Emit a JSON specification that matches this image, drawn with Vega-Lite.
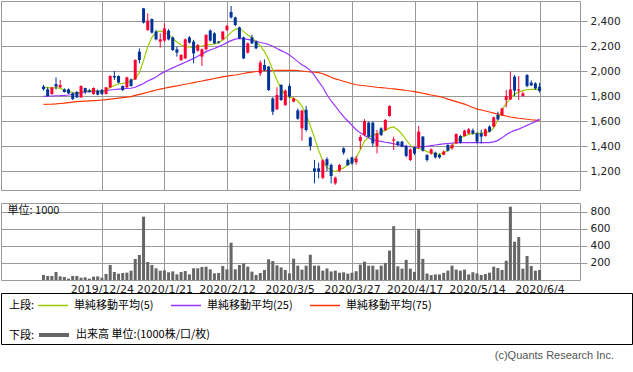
{
  "$schema": "https://vega.github.io/schema/vega-lite/v6.json",
  "padding": 0,
  "background": "white",
  "config": {
    "view": {"stroke": "#999999", "strokeWidth": 1},
    "font": "DejaVu Sans",
    "axis": {"gridColor": "#999999", "gridWidth": 1, "gridOpacity": 1, "domain": false, "tickColor": "#999999", "labelColor": "#222222", "labelFont": "DejaVu Sans"}
  },
  "datasets": {
    "p": [
      {"i":0,"d":"2019-12-04","o":1875,"h":1888,"l":1843,"c":1855,"v":59,"a5":1869,"a25":1797,"a75":1733},
      {"i":1,"d":"2019-12-05","o":1853,"h":1869,"l":1795,"c":1800,"v":47,"a5":1867,"a25":1798,"a75":1734},
      {"i":2,"d":"2019-12-06","o":1816,"h":1872,"l":1810,"c":1869,"v":47,"a5":1864,"a25":1800,"a75":1735},
      {"i":3,"d":"2019-12-09","o":1896,"h":1949,"l":1853,"c":1875,"v":94,"a5":1867,"a25":1802,"a75":1737},
      {"i":4,"d":"2019-12-10","o":1869,"h":1928,"l":1865,"c":1888,"v":43,"a5":1861,"a25":1803,"a75":1740},
      {"i":5,"d":"2019-12-11","o":1853,"h":1862,"l":1828,"c":1832,"v":35,"a5":1848,"a25":1805,"a75":1743},
      {"i":6,"d":"2019-12-12","o":1853,"h":1860,"l":1815,"c":1821,"v":16,"a5":1837,"a25":1808,"a75":1747},
      {"i":7,"d":"2019-12-13","o":1821,"h":1830,"l":1768,"c":1776,"v":47,"a5":1827,"a25":1812,"a75":1751},
      {"i":8,"d":"2019-12-16","o":1832,"h":1840,"l":1785,"c":1789,"v":47,"a5":1821,"a25":1820,"a75":1755},
      {"i":9,"d":"2019-12-17","o":1789,"h":1885,"l":1785,"c":1880,"v":27,"a5":1832,"a25":1828,"a75":1757},
      {"i":10,"d":"2019-12-18","o":1864,"h":1866,"l":1816,"c":1832,"v":31,"a5":1840,"a25":1832,"a75":1759},
      {"i":11,"d":"2019-12-19","o":1843,"h":1855,"l":1828,"c":1832,"v":16,"a5":1843,"a25":1834,"a75":1761},
      {"i":12,"d":"2019-12-20","o":1816,"h":1869,"l":1810,"c":1864,"v":39,"a5":1843,"a25":1836,"a75":1763},
      {"i":13,"d":"2019-12-23","o":1843,"h":1853,"l":1805,"c":1811,"v":43,"a5":1837,"a25":1838,"a75":1765},
      {"i":14,"d":"2019-12-24","o":1848,"h":1856,"l":1810,"c":1816,"v":27,"a5":1835,"a25":1840,"a75":1768},
      {"i":15,"d":"2019-12-25","o":1816,"h":1872,"l":1812,"c":1869,"v":70,"a5":1848,"a25":1844,"a75":1771},
      {"i":16,"d":"2019-12-26","o":1869,"h":1965,"l":1865,"c":1960,"v":176,"a5":1869,"a25":1848,"a75":1775},
      {"i":17,"d":"2019-12-27","o":1960,"h":2000,"l":1928,"c":1949,"v":94,"a5":1885,"a25":1852,"a75":1779},
      {"i":18,"d":"2019-12-30","o":1960,"h":1965,"l":1900,"c":1907,"v":74,"a5":1896,"a25":1855,"a75":1783},
      {"i":19,"d":"2020-01-06","o":1880,"h":1885,"l":1840,"c":1848,"v":82,"a5":1901,"a25":1858,"a75":1787},
      {"i":20,"d":"2020-01-07","o":1869,"h":1955,"l":1865,"c":1949,"v":86,"a5":1909,"a25":1860,"a75":1791},
      {"i":21,"d":"2020-01-08","o":1933,"h":1940,"l":1875,"c":1880,"v":109,"a5":1920,"a25":1862,"a75":1795},
      {"i":22,"d":"2020-01-09","o":1933,"h":2093,"l":1928,"c":2088,"v":246,"a5":1939,"a25":1870,"a75":1805},
      {"i":23,"d":"2020-01-10","o":2155,"h":2181,"l":2061,"c":2088,"v":293,"a5":1987,"a25":1885,"a75":1813},
      {"i":24,"d":"2020-01-14","o":2501,"h":2505,"l":2380,"c":2387,"v":742,"a5":2083,"a25":1900,"a75":1821},
      {"i":25,"d":"2020-01-15","o":2328,"h":2461,"l":2320,"c":2403,"v":211,"a5":2195,"a25":1920,"a75":1830},
      {"i":26,"d":"2020-01-16","o":2416,"h":2420,"l":2300,"c":2307,"v":176,"a5":2269,"a25":1935,"a75":1839},
      {"i":27,"d":"2020-01-17","o":2315,"h":2328,"l":2245,"c":2253,"v":137,"a5":2309,"a25":1952,"a75":1848},
      {"i":28,"d":"2020-01-20","o":2235,"h":2301,"l":2187,"c":2253,"v":109,"a5":2320,"a25":1975,"a75":1855},
      {"i":29,"d":"2020-01-21","o":2243,"h":2381,"l":2235,"c":2341,"v":113,"a5":2309,"a25":1993,"a75":1862},
      {"i":30,"d":"2020-01-22","o":2323,"h":2335,"l":2245,"c":2253,"v":90,"a5":2291,"a25":2010,"a75":1869},
      {"i":31,"d":"2020-01-23","o":2269,"h":2275,"l":2160,"c":2168,"v":101,"a5":2261,"a25":2025,"a75":1875},
      {"i":32,"d":"2020-01-24","o":2173,"h":2195,"l":2115,"c":2147,"v":66,"a5":2232,"a25":2040,"a75":1881},
      {"i":33,"d":"2020-01-27","o":2088,"h":2135,"l":2080,"c":2128,"v":94,"a5":2208,"a25":2055,"a75":1888},
      {"i":34,"d":"2020-01-28","o":2101,"h":2260,"l":2095,"c":2253,"v":105,"a5":2195,"a25":2070,"a75":1894},
      {"i":35,"d":"2020-01-29","o":2269,"h":2280,"l":2220,"c":2227,"v":66,"a5":2192,"a25":2085,"a75":1900},
      {"i":36,"d":"2020-01-30","o":2235,"h":2250,"l":2061,"c":2141,"v":137,"a5":2187,"a25":2100,"a75":1907},
      {"i":37,"d":"2020-01-31","o":2163,"h":2215,"l":2155,"c":2208,"v":137,"a5":2195,"a25":2118,"a75":1914},
      {"i":38,"d":"2020-02-03","o":2115,"h":2180,"l":2040,"c":2173,"v":152,"a5":2200,"a25":2135,"a75":1920},
      {"i":39,"d":"2020-02-04","o":2173,"h":2295,"l":2165,"c":2288,"v":156,"a5":2208,"a25":2155,"a75":1927},
      {"i":40,"d":"2020-02-05","o":2323,"h":2333,"l":2235,"c":2243,"v":125,"a5":2211,"a25":2168,"a75":1933},
      {"i":41,"d":"2020-02-06","o":2301,"h":2310,"l":2215,"c":2221,"v":78,"a5":2216,"a25":2180,"a75":1940},
      {"i":42,"d":"2020-02-07","o":2235,"h":2240,"l":2220,"c":2227,"v":82,"a5":2227,"a25":2195,"a75":1947},
      {"i":43,"d":"2020-02-10","o":2253,"h":2320,"l":2245,"c":2315,"v":164,"a5":2248,"a25":2210,"a75":1953},
      {"i":44,"d":"2020-02-12","o":2328,"h":2370,"l":2320,"c":2360,"v":125,"a5":2275,"a25":2227,"a75":1959},
      {"i":45,"d":"2020-02-13","o":2472,"h":2520,"l":2420,"c":2429,"v":437,"a5":2309,"a25":2243,"a75":1965},
      {"i":46,"d":"2020-02-14","o":2429,"h":2435,"l":2360,"c":2368,"v":125,"a5":2333,"a25":2255,"a75":1968},
      {"i":47,"d":"2020-02-17","o":2349,"h":2355,"l":2255,"c":2261,"v":176,"a5":2339,"a25":2260,"a75":1974},
      {"i":48,"d":"2020-02-18","o":2269,"h":2275,"l":2095,"c":2101,"v":195,"a5":2315,"a25":2258,"a75":1980},
      {"i":49,"d":"2020-02-19","o":2147,"h":2228,"l":2140,"c":2221,"v":156,"a5":2288,"a25":2253,"a75":1987},
      {"i":50,"d":"2020-02-20","o":2269,"h":2290,"l":2215,"c":2221,"v":98,"a5":2269,"a25":2245,"a75":1991},
      {"i":51,"d":"2020-02-21","o":2235,"h":2245,"l":2175,"c":2181,"v":59,"a5":2235,"a25":2237,"a75":1996},
      {"i":52,"d":"2020-02-25","o":1981,"h":2085,"l":1960,"c":2067,"v":82,"a5":2200,"a25":2228,"a75":2000},
      {"i":53,"d":"2020-02-26","o":2048,"h":2093,"l":2000,"c":2008,"v":117,"a5":2155,"a25":2222,"a75":2002},
      {"i":54,"d":"2020-02-27","o":2035,"h":2040,"l":1840,"c":1848,"v":242,"a5":2093,"a25":2212,"a75":2003},
      {"i":55,"d":"2020-02-28","o":1781,"h":1790,"l":1648,"c":1675,"v":222,"a5":2008,"a25":2198,"a75":2004},
      {"i":56,"d":"2020-03-02","o":1693,"h":1870,"l":1688,"c":1808,"v":172,"a5":1928,"a25":2180,"a75":2005},
      {"i":57,"d":"2020-03-03","o":1888,"h":1895,"l":1760,"c":1768,"v":148,"a5":1861,"a25":2163,"a75":2005},
      {"i":58,"d":"2020-03-04","o":1728,"h":1853,"l":1720,"c":1843,"v":117,"a5":1808,"a25":2148,"a75":2005},
      {"i":59,"d":"2020-03-05","o":1880,"h":1900,"l":1785,"c":1795,"v":78,"a5":1789,"a25":2128,"a75":2005},
      {"i":60,"d":"2020-03-06","o":1755,"h":1789,"l":1750,"c":1781,"v":250,"a5":1782,"a25":2103,"a75":2005},
      {"i":61,"d":"2020-03-09","o":1685,"h":1700,"l":1610,"c":1618,"v":168,"a5":1760,"a25":2075,"a75":2004},
      {"i":62,"d":"2020-03-10","o":1541,"h":1690,"l":1443,"c":1683,"v":122,"a5":1720,"a25":2050,"a75":2000},
      {"i":63,"d":"2020-03-11","o":1690,"h":1720,"l":1515,"c":1528,"v":168,"a5":1650,"a25":2030,"a75":1996},
      {"i":64,"d":"2020-03-12","o":1469,"h":1475,"l":1363,"c":1400,"v":296,"a5":1560,"a25":2005,"a75":1993},
      {"i":65,"d":"2020-03-13","o":1221,"h":1288,"l":1101,"c":1195,"v":168,"a5":1465,"a25":1965,"a75":1990},
      {"i":66,"d":"2020-03-16","o":1221,"h":1267,"l":1141,"c":1195,"v":168,"a5":1365,"a25":1915,"a75":1987},
      {"i":67,"d":"2020-03-17","o":1145,"h":1295,"l":1135,"c":1285,"v":110,"a5":1280,"a25":1870,"a75":1978},
      {"i":68,"d":"2020-03-18","o":1295,"h":1310,"l":1200,"c":1245,"v":135,"a5":1230,"a25":1810,"a75":1965},
      {"i":69,"d":"2020-03-19","o":1248,"h":1260,"l":1101,"c":1160,"v":100,"a5":1205,"a25":1760,"a75":1950},
      {"i":70,"d":"2020-03-23","o":1101,"h":1155,"l":1090,"c":1147,"v":110,"a5":1195,"a25":1720,"a75":1937},
      {"i":71,"d":"2020-03-24","o":1203,"h":1255,"l":1190,"c":1248,"v":85,"a5":1210,"a25":1675,"a75":1928},
      {"i":72,"d":"2020-03-25","o":1381,"h":1390,"l":1330,"c":1347,"v":90,"a5":1225,"a25":1635,"a75":1918},
      {"i":73,"d":"2020-03-26","o":1288,"h":1300,"l":1240,"c":1248,"v":75,"a5":1250,"a25":1600,"a75":1908},
      {"i":74,"d":"2020-03-27","o":1309,"h":1315,"l":1250,"c":1261,"v":85,"a5":1275,"a25":1565,"a75":1898},
      {"i":75,"d":"2020-03-30","o":1270,"h":1320,"l":1250,"c":1300,"v":103,"a5":1305,"a25":1530,"a75":1890},
      {"i":76,"d":"2020-03-31","o":1440,"h":1488,"l":1375,"c":1472,"v":180,"a5":1370,"a25":1505,"a75":1886},
      {"i":77,"d":"2020-04-01","o":1488,"h":1615,"l":1480,"c":1600,"v":215,"a5":1440,"a25":1485,"a75":1882},
      {"i":78,"d":"2020-04-02","o":1587,"h":1595,"l":1465,"c":1475,"v":168,"a5":1470,"a25":1465,"a75":1878},
      {"i":79,"d":"2020-04-03","o":1587,"h":1595,"l":1395,"c":1421,"v":168,"a5":1485,"a25":1450,"a75":1874},
      {"i":80,"d":"2020-04-06","o":1400,"h":1528,"l":1341,"c":1500,"v":122,"a5":1498,"a25":1443,"a75":1870},
      {"i":81,"d":"2020-04-07","o":1541,"h":1550,"l":1480,"c":1488,"v":168,"a5":1510,"a25":1437,"a75":1867},
      {"i":82,"d":"2020-04-08","o":1528,"h":1615,"l":1520,"c":1608,"v":200,"a5":1525,"a25":1430,"a75":1864},
      {"i":83,"d":"2020-04-09","o":1640,"h":1725,"l":1635,"c":1720,"v":345,"a5":1545,"a25":1425,"a75":1860},
      {"i":84,"d":"2020-04-10","o":1443,"h":1475,"l":1368,"c":1453,"v":630,"a5":1552,"a25":1418,"a75":1857},
      {"i":85,"d":"2020-04-13","o":1435,"h":1440,"l":1400,"c":1408,"v":160,"a5":1530,"a25":1410,"a75":1853},
      {"i":86,"d":"2020-04-14","o":1435,"h":1440,"l":1390,"c":1395,"v":133,"a5":1495,"a25":1403,"a75":1849},
      {"i":87,"d":"2020-04-15","o":1400,"h":1410,"l":1310,"c":1320,"v":236,"a5":1450,"a25":1398,"a75":1844},
      {"i":88,"d":"2020-04-16","o":1288,"h":1380,"l":1280,"c":1373,"v":133,"a5":1405,"a25":1395,"a75":1840},
      {"i":89,"d":"2020-04-17","o":1390,"h":1395,"l":1328,"c":1340,"v":95,"a5":1380,"a25":1390,"a75":1835},
      {"i":90,"d":"2020-04-20","o":1390,"h":1560,"l":1375,"c":1515,"v":600,"a5":1380,"a25":1390,"a75":1829},
      {"i":91,"d":"2020-04-21","o":1475,"h":1480,"l":1355,"c":1363,"v":248,"a5":1370,"a25":1393,"a75":1822},
      {"i":92,"d":"2020-04-22","o":1328,"h":1335,"l":1275,"c":1288,"v":76,"a5":1355,"a25":1398,"a75":1815},
      {"i":93,"d":"2020-04-23","o":1341,"h":1380,"l":1330,"c":1373,"v":57,"a5":1345,"a25":1403,"a75":1808},
      {"i":94,"d":"2020-04-24","o":1347,"h":1355,"l":1300,"c":1309,"v":65,"a5":1338,"a25":1408,"a75":1802},
      {"i":95,"d":"2020-04-27","o":1328,"h":1340,"l":1300,"c":1309,"v":65,"a5":1333,"a25":1413,"a75":1795},
      {"i":96,"d":"2020-04-28","o":1330,"h":1365,"l":1325,"c":1355,"v":84,"a5":1345,"a25":1417,"a75":1788},
      {"i":97,"d":"2020-04-30","o":1408,"h":1415,"l":1355,"c":1363,"v":110,"a5":1365,"a25":1420,"a75":1775},
      {"i":98,"d":"2020-05-01","o":1381,"h":1415,"l":1370,"c":1408,"v":168,"a5":1400,"a25":1423,"a75":1765},
      {"i":99,"d":"2020-05-07","o":1421,"h":1500,"l":1415,"c":1496,"v":122,"a5":1435,"a25":1425,"a75":1755},
      {"i":100,"d":"2020-05-08","o":1480,"h":1490,"l":1420,"c":1427,"v":110,"a5":1465,"a25":1427,"a75":1745},
      {"i":101,"d":"2020-05-11","o":1480,"h":1530,"l":1475,"c":1523,"v":122,"a5":1480,"a25":1427,"a75":1735},
      {"i":102,"d":"2020-05-12","o":1501,"h":1545,"l":1495,"c":1533,"v":65,"a5":1493,"a25":1427,"a75":1722},
      {"i":103,"d":"2020-05-13","o":1525,"h":1540,"l":1490,"c":1500,"v":91,"a5":1500,"a25":1427,"a75":1708},
      {"i":104,"d":"2020-05-14","o":1501,"h":1510,"l":1420,"c":1435,"v":78,"a5":1501,"a25":1427,"a75":1695},
      {"i":105,"d":"2020-05-15","o":1501,"h":1530,"l":1420,"c":1475,"v":59,"a5":1501,"a25":1427,"a75":1688},
      {"i":106,"d":"2020-05-18","o":1480,"h":1540,"l":1475,"c":1533,"v":70,"a5":1505,"a25":1427,"a75":1680},
      {"i":107,"d":"2020-05-19","o":1555,"h":1565,"l":1510,"c":1515,"v":86,"a5":1515,"a25":1427,"a75":1672},
      {"i":108,"d":"2020-05-20","o":1555,"h":1635,"l":1550,"c":1629,"v":156,"a5":1545,"a25":1433,"a75":1663},
      {"i":109,"d":"2020-05-21","o":1648,"h":1675,"l":1605,"c":1613,"v":140,"a5":1610,"a25":1445,"a75":1655},
      {"i":110,"d":"2020-05-22","o":1648,"h":1705,"l":1640,"c":1701,"v":117,"a5":1690,"a25":1465,"a75":1647},
      {"i":111,"d":"2020-05-25","o":1768,"h":1848,"l":1709,"c":1800,"v":226,"a5":1740,"a25":1490,"a75":1640},
      {"i":112,"d":"2020-05-26","o":1773,"h":1995,"l":1768,"c":1853,"v":859,"a5":1781,"a25":1510,"a75":1632},
      {"i":113,"d":"2020-05-27","o":1955,"h":1968,"l":1800,"c":1843,"v":449,"a5":1815,"a25":1525,"a75":1627},
      {"i":114,"d":"2020-05-28","o":1843,"h":1960,"l":1768,"c":1853,"v":503,"a5":1830,"a25":1535,"a75":1622},
      {"i":115,"d":"2020-05-29","o":1800,"h":1835,"l":1795,"c":1821,"v":133,"a5":1845,"a25":1550,"a75":1618},
      {"i":116,"d":"2020-06-01","o":1968,"h":1975,"l":1870,"c":1880,"v":281,"a5":1850,"a25":1565,"a75":1614},
      {"i":117,"d":"2020-06-02","o":1907,"h":1925,"l":1880,"c":1885,"v":164,"a5":1853,"a25":1580,"a75":1610},
      {"i":118,"d":"2020-06-03","o":1901,"h":1910,"l":1850,"c":1861,"v":109,"a5":1853,"a25":1595,"a75":1607},
      {"i":119,"d":"2020-06-04","o":1875,"h":1905,"l":1828,"c":1840,"v":117,"a5":1853,"a25":1615,"a75":1603}
    ]
  },
  "vconcat": [
    {
      "width": 579,
      "height": 189,
      "data": {"name": "p"},
      "encoding": {
        "x": {"field": "i", "type": "quantitative", "title": null,
          "scale": {"domain": [-9, 127.5], "nice": false, "zero": false},
          "axis": {"values": [14, 29, 44, 59, 74, 89, 104, 119], "labels": false, "ticks": false, "domain": false, "grid": true, "title": null}}
      },
      "layer": [
        {"mark": {"type": "line", "color": "#ff3300", "strokeWidth": 1.2},
         "encoding": {"y": {"field": "a75", "type": "quantitative", "title": null,
           "scale": {"domain": [1048, 2560], "nice": false, "zero": false},
           "axis": {"orient": "right", "values": [1200, 1400, 1600, 1800, 2000, 2200, 2400], "format": ",.0f", "formatType": "number", "labelOverlap": false, "tickSize": 7, "labelPadding": 3, "labelFontSize": 10.5, "grid": true, "title": null}}}},
        {"mark": {"type": "line", "color": "#9933ff", "strokeWidth": 1.2},
         "encoding": {"y": {"field": "a25", "type": "quantitative", "title": null,
           "axis": {"orient": "right", "values": [1200, 1400, 1600, 1800, 2000, 2200, 2400], "format": ",.0f", "formatType": "number", "labelOverlap": false, "tickSize": 7, "labelPadding": 3, "labelFontSize": 10.5, "grid": true, "title": null}}}},
        {"mark": {"type": "line", "color": "#99cc00", "strokeWidth": 1.2},
         "encoding": {"y": {"field": "a5", "type": "quantitative", "title": null,
           "axis": {"orient": "right", "values": [1200, 1400, 1600, 1800, 2000, 2200, 2400], "format": ",.0f", "formatType": "number", "labelOverlap": false, "tickSize": 7, "labelPadding": 3, "labelFontSize": 10.5, "grid": true, "title": null}}}},
        {"mark": {"type": "rule", "strokeWidth": 1},
         "encoding": {
           "y": {"field": "l", "type": "quantitative", "title": null,
             "axis": {"orient": "right", "values": [1200, 1400, 1600, 1800, 2000, 2200, 2400], "format": ",.0f", "formatType": "number", "labelOverlap": false, "tickSize": 7, "labelPadding": 3, "labelFontSize": 10.5, "grid": true, "title": null}},
           "y2": {"field": "h"},
           "color": {"condition": {"test": "datum.c >= datum.o", "value": "#ff0033"}, "value": "#003399"}}},
        {"mark": {"type": "bar", "size": 3},
         "encoding": {
           "y": {"field": "o", "type": "quantitative", "title": null,
             "axis": {"orient": "right", "values": [1200, 1400, 1600, 1800, 2000, 2200, 2400], "format": ",.0f", "formatType": "number", "labelOverlap": false, "tickSize": 7, "labelPadding": 3, "labelFontSize": 10.5, "grid": true, "title": null}},
           "y2": {"field": "c"},
           "color": {"condition": {"test": "datum.c >= datum.o", "value": "#ff0033"}, "value": "#003399"}}}
      ]
    },
    {
      "width": 579,
      "height": 77,
      "data": {"name": "p"},
      "mark": {"type": "bar", "size": 3, "color": "#666666"},
      "encoding": {
        "x": {"field": "i", "type": "quantitative", "title": "単位: 1000",
          "scale": {"domain": [-9, 127.5], "nice": false, "zero": false},
          "axis": {"values": [14, 29, 44, 59, 74, 89, 104, 119],
            "labelExpr": "datum.value == 14 ? '2019/12/24' : datum.value == 29 ? '2020/1/21' : datum.value == 44 ? '2020/2/12' : datum.value == 59 ? '2020/3/5' : datum.value == 74 ? '2020/3/27' : datum.value == 89 ? '2020/4/17' : datum.value == 104 ? '2020/5/14' : '2020/6/4'",
            "labelOverlap": false, "labelFlush": false, "labelFontSize": 11, "labelPadding": 3, "ticks": false, "domain": false, "grid": true,
            "title": "単位: 1000", "titleX": 6, "titleY": -70, "titleAlign": "left", "titleAnchor": "start", "titleBaseline": "middle", "titleAngle": 0, "titleFont": "Noto Sans CJK JP", "titleFontSize": 11, "titleFontWeight": "normal", "titleColor": "#111111"}},
        "y": {"field": "v", "type": "quantitative", "title": null,
          "scale": {"domain": [0, 902], "nice": false, "zero": true},
          "axis": {"orient": "right", "values": [200, 400, 600, 800], "labelOverlap": false, "tickSize": 7, "labelPadding": 3, "labelFontSize": 10.5, "grid": true, "title": null}}
      }
    },
    {
      "width": 631,
      "height": 51,
      "view": {"stroke": "#000000", "strokeWidth": 1},
      "title": {"text": "(c)Quants Research Inc.", "orient": "bottom", "anchor": "end", "fontSize": 11, "fontWeight": "normal", "font": "Liberation Sans", "color": "#555555", "offset": 6, "dx": -18},
      "layer": [
        {
          "data": {"values": [{"s": "単純移動平均(5)"}, {"s": "単純移動平均(25)"}, {"s": "単純移動平均(75)"}]},
          "mark": {"type": "rule"},
          "encoding": {
            "color": {"field": "s", "type": "nominal",
              "scale": {"domain": ["単純移動平均(5)", "単純移動平均(25)", "単純移動平均(75)"], "range": ["#99cc00", "#9933ff", "#ff3300"]},
              "legend": {"title": "上段:", "orient": "none", "legendX": 8, "legendY": 6.5, "direction": "horizontal", "titleOrient": "left", "titleFont": "Noto Sans CJK JP", "titleFontSize": 11, "titleFontWeight": "normal", "titleColor": "#000000", "titlePadding": 12, "labelFont": "Noto Sans CJK JP", "labelFontSize": 11, "labelColor": "#000000", "symbolType": "M-3,0H3", "symbolSize": 100, "symbolStrokeWidth": 1.5, "symbolOpacity": 1, "labelOffset": 15, "columnPadding": 14, "padding": 0}}
          }
        },
        {
          "data": {"values": [{"t": "出来高 単位:(1000株/口/枚)"}]},
          "mark": {"type": "rule"},
          "encoding": {
            "color": {"field": "t", "type": "nominal",
              "scale": {"domain": ["出来高 単位:(1000株/口/枚)"], "range": ["#666666"]},
              "legend": {"title": "下段:", "orient": "none", "legendX": 8, "legendY": 35, "direction": "horizontal", "titleOrient": "left", "titleFont": "Noto Sans CJK JP", "titleFontSize": 11, "titleFontWeight": "normal", "titleColor": "#000000", "titlePadding": 12, "labelFont": "Noto Sans CJK JP", "labelFontSize": 11, "labelColor": "#000000", "symbolType": "M-3,0H3", "symbolSize": 100, "symbolStrokeWidth": 4, "symbolOpacity": 1, "labelOffset": 15, "padding": 0}}
          }
        }
      ],
      "resolve": {"scale": {"color": "independent"}, "legend": {"color": "independent"}}
    }
  ],
  "spacing": 13,
  "bounds": "flush"
}
